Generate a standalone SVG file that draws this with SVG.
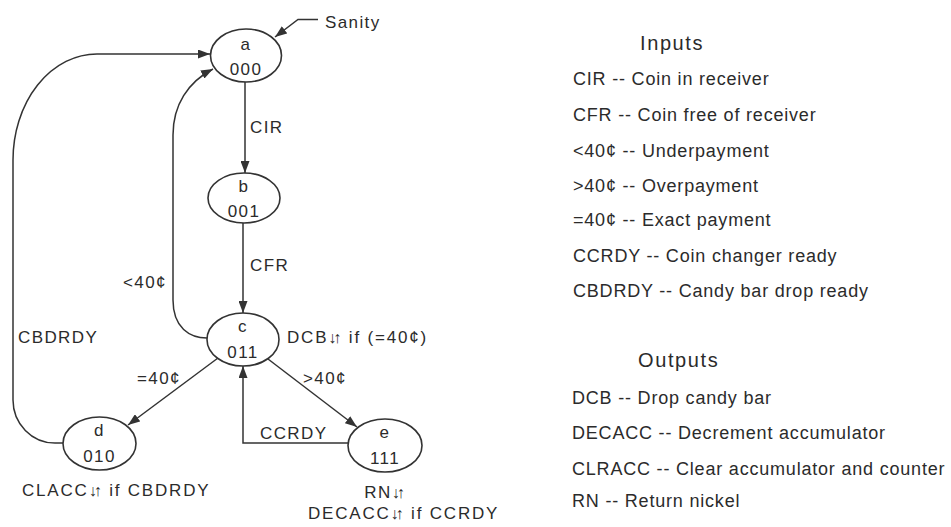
<svg xmlns="http://www.w3.org/2000/svg" width="951" height="527" viewBox="0 0 951 527">
<defs>
<marker id="ah" markerUnits="userSpaceOnUse" markerWidth="13" markerHeight="9" refX="12" refY="4.5" orient="auto">
<path d="M0,0 L12,4.5 L0,9 Z" fill="#333"/>
</marker>
<style>
.n{fill:none;stroke:#333;stroke-width:1.6}
.c{fill:none;stroke:#333;stroke-width:1.5;marker-end:url(#ah)}
text{font-family:"Liberation Sans",Arial,sans-serif;fill:#2b2b2b}
.t{font-size:17px;letter-spacing:1.4px}
.w{letter-spacing:1.8px}
.m{text-anchor:middle}
.r{font-size:18px;letter-spacing:0.8px}
.h{font-size:20px;letter-spacing:1.6px}
.ar{font-size:16px;letter-spacing:-3px}
.ar2{font-size:16px;letter-spacing:1px}
</style>
</defs>
<rect width="951" height="527" fill="#fff"/>
<g id="connectors">
<path class="c" d="M318,19.5 L298,19.5 L275,37"/>
<path class="c" d="M245,82 L245,173"/>
<path class="c" d="M243,223 L243,313"/>
<path class="c" d="M218,358 L128,425"/>
<path class="c" d="M268,359 L357,427"/>
<path class="c" d="M348,443 L243,443 L243,366"/>
<path class="c" d="M63,443 L55,443 A42 43 0 0 1 13,400 L13,160 A84 106 0 0 1 97,54 L210,54"/>
<path class="c" d="M207,338 C190,338 173,328 173,300 L173,135 C173,105 188,82 213,69"/>
</g>
<g id="node-a">
<ellipse class="n" cx="246" cy="55.5" rx="35.5" ry="26.5"/>
<text class="t m" x="246" y="50">a</text>
<text class="t m" x="246" y="75">000</text>
</g>
<g id="node-b">
<ellipse class="n" cx="244" cy="198" rx="36" ry="25"/>
<text class="t m" x="244" y="192">b</text>
<text class="t m" x="244" y="217">001</text>
</g>
<g id="node-c">
<ellipse class="n" cx="243" cy="339.5" rx="36" ry="26.5"/>
<text class="t m" x="243" y="332">c</text>
<text class="t m" x="243" y="358">011</text>
</g>
<g id="node-d">
<ellipse class="n" cx="99.5" cy="443.5" rx="36.5" ry="26.5"/>
<text class="t m" x="99.5" y="436">d</text>
<text class="t m" x="99.5" y="462">010</text>
</g>
<g id="node-e">
<ellipse class="n" cx="385" cy="445.5" rx="37" ry="26.5"/>
<text class="t m" x="385" y="438">e</text>
<text class="t m" x="385" y="464">111</text>
</g>
<g id="labels">
<text class="t" x="325" y="28">Sanity</text>
<text class="t" x="250" y="133">CIR</text>
<text class="t" x="250" y="271">CFR</text>
<text class="t" x="123" y="288">&lt;40¢</text>
<text class="t" x="18" y="343">CBDRDY</text>
<text class="t w" x="287" y="343">DCB<tspan class="ar">↓</tspan><tspan class="ar2">↑</tspan> if (=40¢)</text>
<text class="t" x="137" y="384">=40¢</text>
<text class="t" x="303" y="384">&gt;40¢</text>
<text class="t" x="260" y="439">CCRDY</text>
<text class="t w" x="22" y="496">CLACC<tspan class="ar">↓</tspan><tspan class="ar2">↑</tspan> if CBDRDY</text>
<text class="t m" x="385" y="498">RN<tspan class="ar">↓</tspan><tspan class="ar2">↑</tspan></text>
<text class="t w" x="308" y="519">DECACC<tspan class="ar">↓</tspan><tspan class="ar2">↑</tspan> if CCRDY</text>
</g>
<g id="legend">
<text class="h" x="640" y="50">Inputs</text>
<text class="r" x="573" y="85">CIR -- Coin in receiver</text>
<text class="r" x="573" y="121">CFR -- Coin free of receiver</text>
<text class="r" x="573" y="156.5">&lt;40¢ -- Underpayment</text>
<text class="r" x="573" y="191.5">&gt;40¢ -- Overpayment</text>
<text class="r" x="573" y="226">=40¢ -- Exact payment</text>
<text class="r" x="573" y="261.5">CCRDY -- Coin changer ready</text>
<text class="r" x="573" y="297">CBDRDY -- Candy bar drop ready</text>
<text class="h" x="638" y="367">Outputs</text>
<text class="r" x="572" y="404">DCB -- Drop candy bar</text>
<text class="r" x="572" y="439">DECACC -- Decrement accumulator</text>
<text class="r" x="572" y="474.5">CLRACC -- Clear accumulator and counter</text>
<text class="r" x="572" y="506.5">RN -- Return nickel</text>
</g>
</svg>
